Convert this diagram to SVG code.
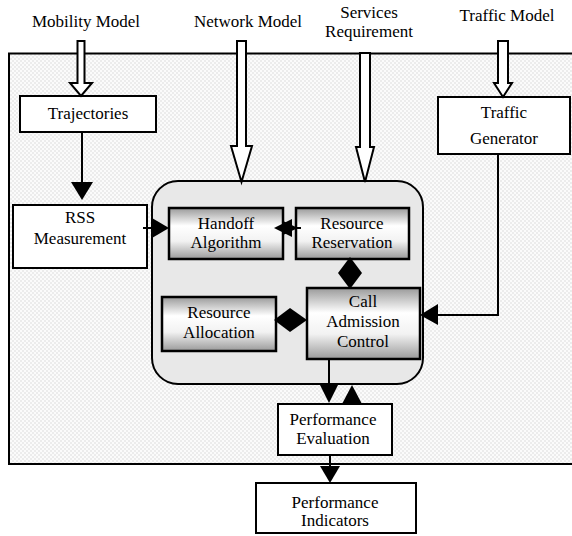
<svg xmlns="http://www.w3.org/2000/svg" width="572" height="536" viewBox="0 0 572 536">
<defs>
<linearGradient id="g" x1="0" y1="0" x2="0" y2="1">
<stop offset="0" stop-color="#9a9a9a"/>
<stop offset="0.35" stop-color="#ffffff"/>
<stop offset="0.65" stop-color="#f2f2f2"/>
<stop offset="1" stop-color="#9a9a9a"/>
</linearGradient>
<pattern id="dots" width="4" height="4" patternUnits="userSpaceOnUse">
<rect width="4" height="4" fill="#fbfbfb"/>
<rect width="2" height="2" fill="#ececec"/>
<rect x="2" y="2" width="2" height="2" fill="#ececec"/>
</pattern>
<style>
text{font-family:'Liberation Serif','DejaVu Serif','Noto Serif',Tinos,'Times New Roman',serif;font-size:17px;fill:#000;text-anchor:middle}
.box{fill:#fff;stroke:#000;stroke-width:2}
.gbox{fill:url(#g);stroke:#000;stroke-width:2.5}
.hollow{fill:#fff;stroke:#000;stroke-width:2}
.ln{fill:none;stroke:#000;stroke-width:2}
.hd{fill:#000;stroke:none}
</style>
</defs>
<g id="background">
<rect x="9" y="53.5" width="580" height="410.5" fill="url(#dots)" stroke="#000" stroke-width="2"/>
</g>
<g id="core">
<rect x="152" y="181" width="271" height="203" rx="26" fill="#e8e8e8" stroke="#000" stroke-width="2"/>
</g>
<g id="labels">
<text x="86" y="27">Mobility Model</text>
<text x="248" y="27">Network Model</text>
<text x="369" y="18">Services</text>
<text x="369" y="37">Requirement</text>
<text x="507" y="21">Traffic Model</text>
</g>
<g id="trajectories">
<rect class="box" x="20" y="96" width="136" height="36"/>
<text x="88" y="119">Trajectories</text>
</g>
<g id="traffic-generator">
<rect class="box" x="438" y="97" width="132" height="57"/>
<text x="504" y="118">Traffic</text>
<text x="504" y="144">Generator</text>
</g>
<g id="rss">
<rect class="box" x="13" y="205" width="134" height="63"/>
<text x="80" y="223">RSS</text>
<text x="80" y="244">Measurement</text>
</g>
<g id="handoff">
<rect class="gbox" x="169" y="208" width="114" height="51"/>
<text x="226" y="229">Handoff</text>
<text x="226" y="248">Algorithm</text>
</g>
<g id="reservation">
<rect class="gbox" x="296" y="208" width="113" height="51"/>
<text x="352" y="229">Resource</text>
<text x="352" y="248">Reservation</text>
</g>
<g id="allocation">
<rect class="gbox" x="162" y="297" width="114" height="54"/>
<text x="219" y="318">Resource</text>
<text x="219" y="338">Allocation</text>
</g>
<g id="cac">
<rect class="gbox" x="307" y="288" width="113" height="71"/>
<text x="363" y="307">Call</text>
<text x="363" y="327">Admission</text>
<text x="363" y="347">Control</text>
</g>
<g id="perf-eval">
<rect class="box" x="278" y="404" width="114" height="51"/>
<text x="333" y="425">Performance</text>
<text x="333" y="444">Evaluation</text>
</g>
<g id="perf-ind">
<rect class="box" x="256" y="483" width="160" height="50"/>
<text x="335" y="508">Performance</text>
<text x="335" y="526">Indicators</text>
</g>
<g id="connectors">
<polygon class="hollow" points="77.5,41 84.5,41 84.5,83 92,83 81,96 70,83 77.5,83"/>
<polygon class="hollow" points="237,41 246,41 246,146 252,146 241.5,182 231,146 237,146"/>
<polygon class="hollow" points="360,53 370,53 370,147 374,147 365,182 356,147 360,147"/>
<polygon class="hollow" points="498,41 508,41 508,83 512,83 503,97 494,83 498,83"/>
<line class="ln" x1="82" y1="132" x2="82" y2="184"/>
<polygon class="hd" points="71,182 93,182 82,200"/>
<line class="ln" x1="143" y1="228" x2="154" y2="228"/>
<polygon class="hd" points="152,218 152,238 169,228"/>
<polygon class="hd" points="274,228 292,219 292,237"/>
<polygon class="hd" points="298,228 283,221 283,235"/>
<line class="ln" x1="290" y1="228" x2="301" y2="228"/>
<polygon class="hd" points="350,257 362,273 350,289 338,273"/>
<polygon class="hd" points="274,320 290,308 307,320 290,332"/>
<polyline class="ln" points="498,154 498,315 436,315"/>
<polygon class="hd" points="438,304 438,325 420,315"/>
<line class="ln" x1="329" y1="359" x2="329" y2="387"/>
<polygon class="hd" points="320,385 338,385 329,403"/>
<polygon class="hd" points="342,404 362,404 352,385"/>
<line class="ln" x1="330" y1="455" x2="330" y2="468"/>
<polygon class="hd" points="320,466 340,466 330,483"/>
</g>
</svg>
